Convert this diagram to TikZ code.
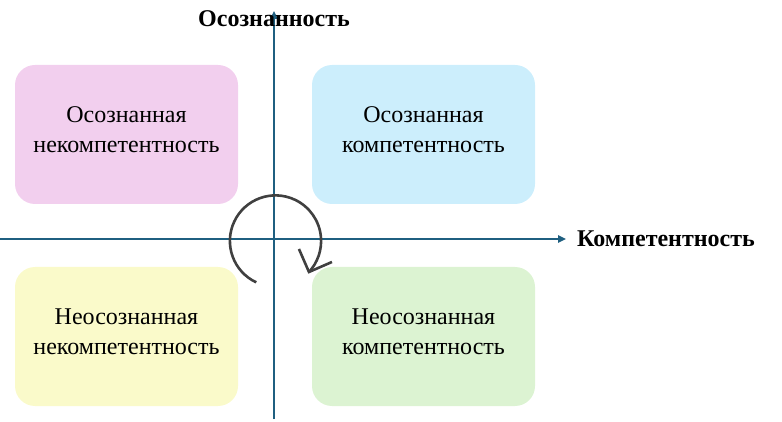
\documentclass[tikz,border=0pt]{standalone}
\usepackage{fontspec}
\setmainfont{Liberation Serif}
\usetikzlibrary{arrows.meta}
\definecolor{axisc}{HTML}{1F5F80}
\definecolor{pinkc}{RGB}{242,207,238}
\definecolor{bluec}{RGB}{204,238,252}
\definecolor{yellowc}{RGB}{250,250,202}
\definecolor{greenc}{RGB}{220,243,210}
\definecolor{loopc}{HTML}{404040}
\begin{document}
\begin{tikzpicture}[x=1pt,y=-1pt,
  quad/.style={rounded corners=20pt, minimum width=223pt, minimum height=139pt, inner sep=0pt},
  qtext/.style={align=center, inner sep=0pt, font=\fontsize{24}{30}\selectfont},
  axis/.style={draw=axisc, line width=1.6pt, -{Triangle[length=8pt,width=7.5pt]}},
  axlabel/.style={font=\fontsize{24}{26}\selectfont\bfseries, inner sep=0pt}]
\useasboundingbox (0,0) rectangle (782,422);
\node[quad, fill=pinkc] (ui) at (126.5,134.5) {};
\node[quad, fill=bluec] (ck) at (423.5,134.5) {};
\node[quad, fill=yellowc] (uu) at (126.5,336.5) {};
\node[quad, fill=greenc] (uc) at (423.5,336.5) {};
\node[qtext] (uit) at ([yshift=5pt]ui.center) {Осознанная\\некомпетентность};
\node[qtext] (ckt) at ([yshift=5pt]ck.center) {Осознанная\\компетентность};
\node[qtext] (uut) at ([yshift=5pt]uu.center) {Неосознанная\\некомпетентность};
\node[qtext] (uct) at ([yshift=5pt]uc.center) {Неосознанная\\компетентность};
\coordinate (xs) at (0,239);
\coordinate (xe) at (566,239);
\coordinate (ys) at (274,419);
\coordinate (ye) at (274,11);
\draw[axis] (xs) -- (xe);
\draw[axis] (ys) -- (ye);
\node[axlabel, anchor=west] (xl) at (577,239) {Компетентность};
\node[axlabel] (yl) at (274,19) {Осознанность};
\coordinate (c) at (275.5,241);
\coordinate (tip) at ([shift={(402.8:45.6)}]c);
\draw[loopc, line width=2.6pt]
  ([shift={(115:45.6)}]c) arc[start angle=115, end angle=402.8, radius=45.6];
\draw[loopc, line width=2.6pt, miter limit=4] ([shift={(-10,-23)}]tip) -- (tip) -- ([shift={(23,-10)}]tip);
\end{tikzpicture}
\end{document}
